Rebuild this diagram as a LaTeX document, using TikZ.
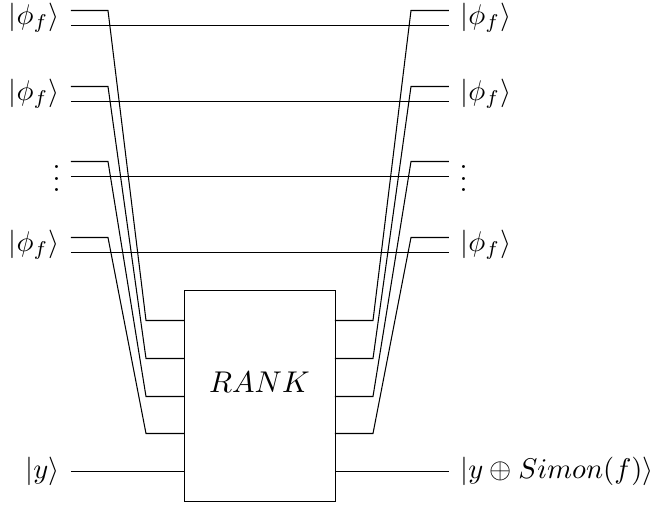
\documentclass[tikz,border=0pt]{standalone}
\usepackage{amsmath}
\usepackage{amssymb}
\usepackage{tikz}
\usetikzlibrary{calc}

\tikzset{
    ketleft/.style={anchor=east, inner sep=0pt, scale=0.95},
    ketright/.style={anchor=west, inner sep=0pt, scale=0.95},
    wire/.style={line width=0.35pt}
}

\begin{document}
\begin{tikzpicture}[x=0.3333pt, y=-0.3333pt]
    \useasboundingbox (0,0) rectangle (656,507);
    \node [draw, line width=0.3pt, minimum width=50.33pt, minimum height=70.33pt, inner sep=0pt] (rank) at (259.5,395.5) {};
    \node (ranktext) at (259.5,382) {$RANK$};
    % upper wires run into the box, lower wires pass over
    \foreach \n/\y/\b in {1/10.5/320.5, 2/86.5/358.5, 3/161.5/396.5, 4/237.5/433.5}{
        \coordinate (inl\n) at (71,\y);
        \coordinate (inb\n) at (184,\b);
        \coordinate (outb\n) at (335,\b);
        \coordinate (outl\n) at (449,\y);
        \coordinate (passl\n) at (71,\y+15);
        \coordinate (passr\n) at (449,\y+15);
        \draw [wire] (inl\n) -- (108,\y) -- (146,\b) -- (inb\n);
        \draw [wire] (outb\n) -- (373,\b) -- (411,\y) -- (outl\n);
        \draw [wire] (passl\n) -- (passr\n);
    }
    \foreach \n/\y in {1/18, 2/94, 4/245}{
        \node [ketleft] (kl\n) at (60,\y) {$|\phi_f\rangle$};
        \node [ketright] (kr\n) at (460,\y) {$|\phi_f\rangle$};
    }
    \node [ketleft] (dotsl) at (61,170) {$\vdots$};
    \node [ketright] (dotsr) at (459,170) {$\vdots$};
    \node [ketleft] (yl) at (60,471) {$|y\rangle$};
    \node [ketright] (yr) at (460,471) {$|y \oplus Simon(f)\rangle$};
    \coordinate (yin) at (71,471.5);
    \coordinate (yout) at (449,471.5);
    \draw [wire] (yin) -- (rank.west |- yin);
    \draw [wire] (rank.east |- yout) -- (yout);
\end{tikzpicture}
\end{document}
